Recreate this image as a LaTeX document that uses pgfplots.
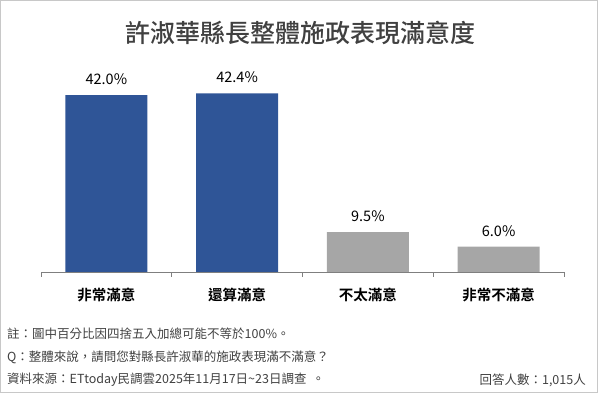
\documentclass[border=0pt]{standalone}
\usepackage{fontspec}
\setmainfont{Noto Sans CJK TC}[BoldFont={Noto Sans CJK TC Bold}]
\newfontfamily\titlefont{Noto Sans CJK TC Medium}
\usepackage{pgfplots}
\pgfplotsset{compat=1.18}
\definecolor{barblue}{HTML}{2F5597}
\definecolor{bargray}{HTML}{A6A6A6}
\definecolor{txtgray}{HTML}{404040}
\definecolor{framegray}{HTML}{C8C8C8}
\definecolor{axgray}{HTML}{7F7F7F}
\begin{document}
\begin{tikzpicture}[x=1pt,y=1pt]
\path[use as bounding box] (0,0) rectangle (600,393);
\draw[framegray,line width=1pt] (0.8,0.8) rectangle (597.5,392.2);
\node[txtgray,font=\titlefont\fontsize{25}{28}\selectfont] at (300,360) {許淑華縣長整體施政表現滿意度};
\begin{axis}[
  at={(41pt,121pt)}, anchor=south west,
  scale only axis, width=523pt, height=210.5pt,
  xmin=-0.5, xmax=3.5, ymin=0, ymax=50,
  axis y line=none, axis x line*=bottom,
  x axis line style={axgray, line width=0.8pt, -},
  xtick={-0.5,0.5,1.5,2.5,3.5}, xticklabels={},
  major tick length=5pt, tick align=outside,
  xtick style={axgray, line width=0.8pt},
  extra x ticks={0,1,2,3},
  extra x tick labels={非常滿意,還算滿意,不太滿意,非常不滿意},
  extra x tick style={major tick length=0pt, tick label style={font=\bfseries\fontsize{14.5}{16}\selectfont, black, yshift=-12pt}},
  ybar, bar width=82pt, bar shift=0pt,
  /pgf/number format/assume math mode=true,
  nodes near coords={\pgfmathprintnumber[fixed,fixed zerofill,precision=1,assume math mode=true]{\pgfplotspointmeta}\%},
  every node near coord/.append style={font=\fontsize{14.5}{16}\selectfont, black, yshift=7pt},
  clip=false,
]
\addplot[fill=barblue, draw=none] coordinates {(0,42.0) (1,42.4)};
\addplot[fill=bargray, draw=none] coordinates {(2,9.5) (3,6.0)};
\end{axis}
\begin{scope}[every node/.style={txtgray, font=\fontsize{12.5}{14}\selectfont, inner sep=0pt}]
\node[anchor=west] at (7,59) {註：圖中百分比因四捨五入加總可能不等於100\%。};
\node[anchor=west] at (7,36) {Q：整體來說，請問您對縣長許淑華的施政表現滿不滿意？};
\node[anchor=west] at (7,13) {資料來源：ETtoday民調雲2025年11月17日\textasciitilde 23日調查\ \ 。};
\node[anchor=east] at (586,13) {回答人數：1,015人};
\end{scope}
\end{tikzpicture}
\end{document}
